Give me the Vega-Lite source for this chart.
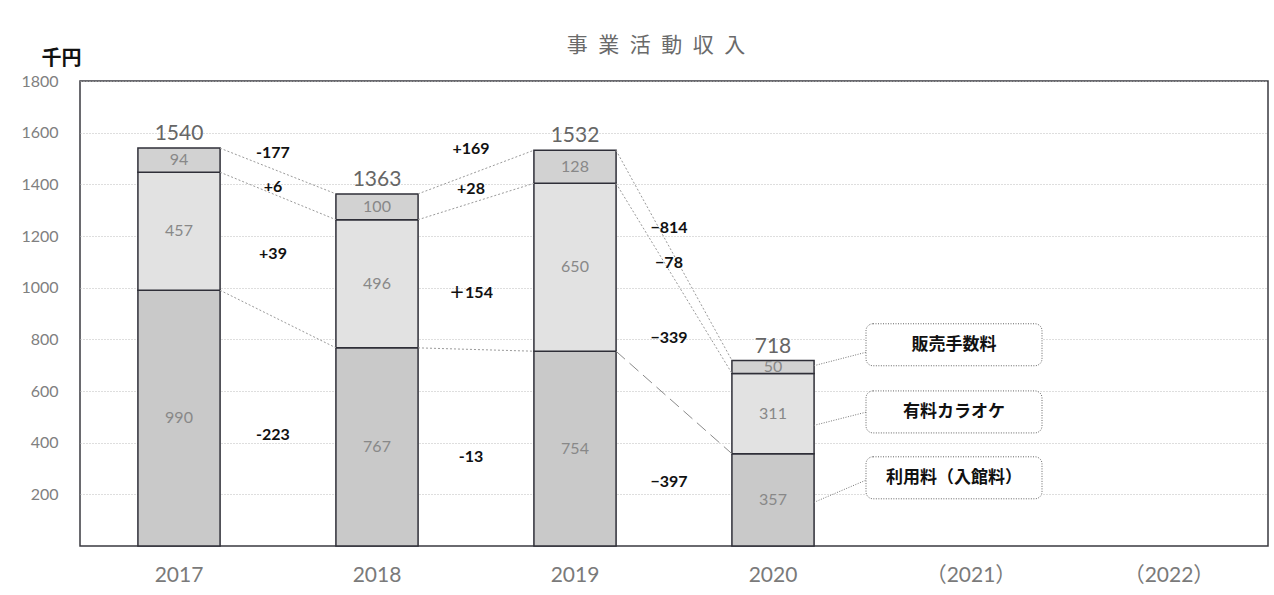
{
  "$schema": "https://vega.github.io/schema/vega-lite/v6.json",
  "autosize": "none",
  "width": 1188,
  "height": 465,
  "padding": {"left": 80, "top": 81, "right": 6, "bottom": 49},
  "background": "white",
  "config": {
    "font": "Lato, Noto Sans CJK JP",
    "view": {"stroke": "#3a3a40", "strokeWidth": 1.5}
  },
  "title": {
    "text": "事\u2002業\u2002活\u2002動\u2002収\u2002入",
    "font": "Noto Sans CJK JP",
    "fontSize": 21,
    "fontWeight": "normal",
    "color": "#6a6a6a",
    "anchor": "middle",
    "dx": -18,
    "offset": -8
  },
  "datasets": {
    "stack": [
      {"year": "2017", "cat": "利用料（入館料）", "value": 990, "order": 1},
      {"year": "2017", "cat": "有料カラオケ", "value": 457, "order": 2},
      {"year": "2017", "cat": "販売手数料", "value": 94, "order": 3},
      {"year": "2018", "cat": "利用料（入館料）", "value": 767, "order": 1},
      {"year": "2018", "cat": "有料カラオケ", "value": 496, "order": 2},
      {"year": "2018", "cat": "販売手数料", "value": 100, "order": 3},
      {"year": "2019", "cat": "利用料（入館料）", "value": 754, "order": 1},
      {"year": "2019", "cat": "有料カラオケ", "value": 650, "order": 2},
      {"year": "2019", "cat": "販売手数料", "value": 128, "order": 3},
      {"year": "2020", "cat": "利用料（入館料）", "value": 357, "order": 1},
      {"year": "2020", "cat": "有料カラオケ", "value": 311, "order": 2},
      {"year": "2020", "cat": "販売手数料", "value": 50, "order": 3}
    ],
    "totals": [
      {"year": "2017", "total": 1540},
      {"year": "2018", "total": 1363},
      {"year": "2019", "total": 1532},
      {"year": "2020", "total": 718}
    ],
    "diffs": [
      {"year": "2017", "label": "-177", "v": 1520},
      {"year": "2017", "label": "+6", "v": 1389},
      {"year": "2017", "label": "+39", "v": 1129},
      {"year": "2017", "label": "-223", "v": 428},
      {"year": "2018", "label": "+169", "v": 1536},
      {"year": "2018", "label": "+28", "v": 1381},
      {"year": "2018", "label": "＋154", "v": 978},
      {"year": "2018", "label": "-13", "v": 343},
      {"year": "2019", "label": "−814", "v": 1230},
      {"year": "2019", "label": "−78", "v": 1094},
      {"year": "2019", "label": "−339", "v": 804},
      {"year": "2019", "label": "−397", "v": 246}
    ],
    "links": [
      {"from": "2017", "to": "2018", "seg": "total", "v1": 1540, "v2": 1363},
      {"from": "2017", "to": "2018", "seg": "karaoke", "v1": 1447, "v2": 1263},
      {"from": "2017", "to": "2018", "seg": "base", "v1": 990, "v2": 767},
      {"from": "2018", "to": "2019", "seg": "total", "v1": 1363, "v2": 1532},
      {"from": "2018", "to": "2019", "seg": "karaoke", "v1": 1263, "v2": 1404},
      {"from": "2018", "to": "2019", "seg": "base", "v1": 767, "v2": 754},
      {"from": "2019", "to": "2020", "seg": "total", "v1": 1532, "v2": 718},
      {"from": "2019", "to": "2020", "seg": "karaoke", "v1": 1404, "v2": 668},
      {"from": "2019", "to": "2020", "seg": "base", "v1": 754, "v2": 357}
    ],
    "callouts": [
      {"year": "2020", "cat": "販売手数料", "vc": 779, "vfrom": 698, "vto": 750},
      {"year": "2020", "cat": "有料カラオケ", "vc": 519, "vfrom": 467, "vto": 518},
      {"year": "2020", "cat": "利用料（入館料）", "vc": 264, "vfrom": 169, "vto": 255}
    ]
  },
  "layer": [
    {
      "data": {"name": "stack"},
      "mark": {"type": "bar", "stroke": "#2f2f38", "strokeWidth": 1.5},
      "encoding": {
        "x": {
          "field": "year",
          "type": "nominal",
          "sort": null,
          "scale": {
            "domain": ["2017", "2018", "2019", "2020", "（2021）", "（2022）"],
            "paddingInner": 0.585,
            "paddingOuter": 0.2925
          },
          "axis": {
            "title": null,
            "labelAngle": 0,
            "labelFontSize": 21,
            "labelColor": "#7a7a7a",
            "labelPadding": 18,
            "ticks": false,
            "domain": false,
            "grid": false
          }
        },
        "y": {
          "field": "value",
          "type": "quantitative",
          "stack": "zero",
          "scale": {"domain": [0, 1800], "nice": false},
          "axis": {
            "values": [200, 400, 600, 800, 1000, 1200, 1400, 1600, 1800],
            "format": "d",
            "title": "千円",
            "titleAngle": 0,
            "titleX": -19,
            "titleY": -23,
            "titleAlign": "center",
            "titleBaseline": "middle",
            "titleFont": "Noto Sans CJK JP",
            "titleFontSize": 20,
            "titleFontWeight": "bold",
            "titleColor": "#111111",
            "labelFontSize": 16,
            "labelColor": "#808080",
            "labelPadding": 22,
            "ticks": false,
            "domain": false,
            "grid": true,
            "gridColor": "#bdbdbd",
            "gridDash": [1, 2]
          }
        },
        "color": {
          "field": "cat",
          "type": "nominal",
          "scale": {
            "domain": ["利用料（入館料）", "有料カラオケ", "販売手数料"],
            "range": ["#c9c9c9", "#e2e2e2", "#d2d2d2"]
          },
          "legend": null
        },
        "order": {"field": "order", "type": "quantitative"}
      }
    },
    {
      "data": {"name": "stack"},
      "transform": [
        {"stack": "value", "groupby": ["year"], "sort": [{"field": "order"}], "as": ["v0", "v1"]},
        {"fold": ["v0", "v1"], "as": ["edge", "pos"]},
        {"aggregate": [{"op": "mean", "field": "pos", "as": "mid"}, {"op": "max", "field": "value", "as": "value"}], "groupby": ["year", "cat"]}
      ],
      "mark": {"type": "text", "fontSize": 16, "color": "#888888", "baseline": "middle"},
      "encoding": {
        "x": {"field": "year", "type": "nominal"},
        "y": {"field": "mid", "type": "quantitative"},
        "text": {"field": "value", "type": "quantitative"}
      }
    },
    {
      "data": {"name": "totals"},
      "mark": {"type": "text", "fontSize": 21, "color": "#666666", "baseline": "alphabetic", "dy": -8},
      "encoding": {
        "x": {"field": "year", "type": "nominal"},
        "y": {"field": "total", "type": "quantitative"},
        "text": {"field": "total", "type": "quantitative"}
      }
    },
    {
      "data": {"name": "links"},
      "transform": [{"filter": "datum.from != '2019' || datum.seg != 'base'"}],
      "mark": {"type": "rule", "color": "#9a9a9a", "strokeWidth": 1, "strokeDash": [2, 2], "xOffset": 41, "x2Offset": -41},
      "encoding": {
        "x": {"field": "from", "type": "nominal"},
        "x2": {"field": "to"},
        "y": {"field": "v1", "type": "quantitative"},
        "y2": {"field": "v2"}
      }
    },
    {
      "data": {"name": "links"},
      "transform": [{"filter": "datum.from == '2019' && datum.seg == 'base'"}],
      "mark": {"type": "rule", "color": "#8a8a8a", "strokeWidth": 1, "strokeDash": [12, 6], "xOffset": 41, "x2Offset": -41},
      "encoding": {
        "x": {"field": "from", "type": "nominal"},
        "x2": {"field": "to"},
        "y": {"field": "v1", "type": "quantitative"},
        "y2": {"field": "v2"}
      }
    },
    {
      "data": {"name": "diffs"},
      "mark": {"type": "text", "fontSize": 16, "fontWeight": "bold", "color": "#111111", "baseline": "middle", "dx": 94},
      "encoding": {
        "x": {"field": "year", "type": "nominal"},
        "y": {"field": "v", "type": "quantitative"},
        "text": {"field": "label"}
      }
    },
    {
      "data": {"name": "callouts"},
      "mark": {"type": "rule", "color": "#777777", "strokeWidth": 1, "strokeDash": [1, 1.5], "xOffset": 41, "x2Offset": 93},
      "encoding": {
        "x": {"field": "year", "type": "nominal"},
        "x2": {"field": "year"},
        "y": {"field": "vfrom", "type": "quantitative"},
        "y2": {"field": "vto"}
      }
    },
    {
      "data": {"name": "callouts"},
      "mark": {"type": "bar", "width": 176, "xOffset": 181, "yOffset": -21, "y2Offset": 21, "cornerRadius": 7, "fill": "white", "stroke": "#666666", "strokeWidth": 1, "strokeDash": [1, 1.5]},
      "encoding": {
        "x": {"field": "year", "type": "nominal"},
        "y": {"field": "vc", "type": "quantitative"},
        "y2": {"field": "vc"}
      }
    },
    {
      "data": {"name": "callouts"},
      "mark": {"type": "text", "font": "Noto Sans CJK JP", "fontSize": 17, "fontWeight": "bold", "color": "#111111", "baseline": "middle", "dx": 181},
      "encoding": {
        "x": {"field": "year", "type": "nominal"},
        "y": {"field": "vc", "type": "quantitative"},
        "text": {"field": "cat"}
      }
    }
  ]
}
